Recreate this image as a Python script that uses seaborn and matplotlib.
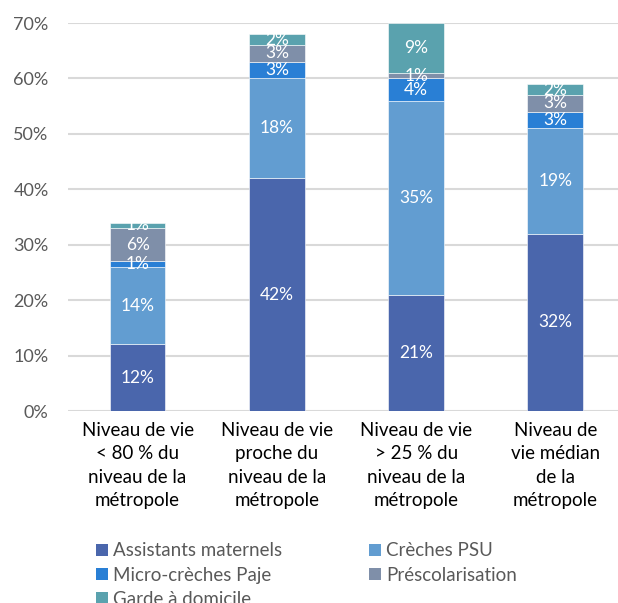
import numpy as np
import pandas as pd
import seaborn as sns
import matplotlib.pyplot as plt
from matplotlib.patches import Patch

# categories (x axis)
categories = [
    "Niveau de vie\n< 80 % du\nniveau de la\nmétropole",
    "Niveau de vie\nproche du\nniveau de la\nmétropole",
    "Niveau de vie\n> 25 % du\nniveau de la\nmétropole",
    "Niveau de\nvie médian\nde la\nmétropole",
]

# series, bottom to top of the stack (values in %)
series_names = ["Assistants maternels", "Crèches PSU", "Micro-crèches Paje",
                "Préscolarisation", "Garde à domicile"]
assistants = [12, 42, 21, 32]
creches_psu = [14, 18, 35, 19]
micro_creches = [1, 3, 4, 3]
prescolarisation = [6, 3, 1, 3]
garde_domicile = [1, 2, 9, 2]

colors = ["#4a66ac", "#629dd1", "#297fd5", "#7f8fa9", "#5aa2ae"]

sns.set_theme(style="white")
plt.rcParams["font.family"] = ["Lato", "DejaVu Sans"]

fig = plt.figure(figsize=(6.18, 6.03), dpi=100)
ax = fig.add_axes([68 / 618, 192 / 603, 550 / 618, 388 / 603])

all_values = [assistants, creches_psu, micro_creches, prescolarisation, garde_domicile]
bottom = np.zeros(len(categories))
for name, vals, col in zip(series_names, all_values, colors):
    df = pd.DataFrame({"cat": categories, "val": vals})
    sns.barplot(data=df, x="cat", y="val", color=col, width=0.4,
                bottom=bottom, ax=ax, edgecolor="white", linewidth=0.4,
                saturation=1)
    bottom = bottom + np.array(vals)

for cont in ax.containers:
    labels = [f"{v:.0f}%" for v in cont.datavalues]
    ax.bar_label(cont, labels=labels, label_type="center", color="white",
                 fontsize=12.5)

ax.set_ylim(0, 70)
ax.set_xlim(-0.5, 3.45)
ax.set_yticks(range(0, 71, 10))
ax.set_yticklabels([f"{t}%" for t in range(0, 71, 10)])
ax.yaxis.grid(True, color="#d9d9d9", linewidth=1.5)
ax.set_axisbelow(True)
ax.set_xlabel("")
ax.set_ylabel("")
sns.despine(ax=ax, left=True, bottom=True)
ax.tick_params(axis="y", length=0, pad=14, labelsize=13, labelcolor="#595959")
ax.tick_params(axis="x", length=0, pad=8, labelsize=13.5, labelcolor="black")
for lbl in ax.get_xticklabels():
    lbl.set_linespacing(1.45)

# matplotlib fills legend columns first, reorder so rows read like the reference
order = [0, 2, 4, 1, 3]
handles = [Patch(facecolor=colors[i], edgecolor="none") for i in order]
fig.legend(handles, [series_names[i] for i in order], loc="upper left",
           bbox_to_anchor=(88 / 618, 1 - 535 / 603), ncol=2, frameon=False,
           fontsize=13.5, labelcolor="#595959", handlelength=0.65,
           handleheight=0.65, handletextpad=0.3, columnspacing=4.6,
           labelspacing=0.38, borderaxespad=0)

fig.savefig("out.png", dpi=100)
